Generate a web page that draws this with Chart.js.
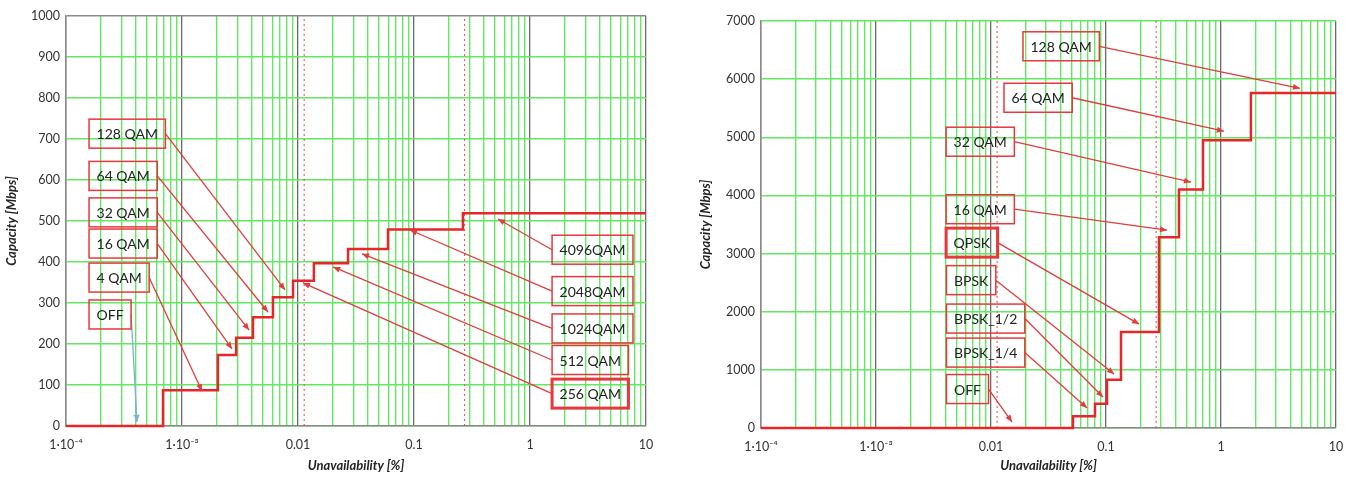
<!DOCTYPE html>
<html>
<head>
<meta charset="utf-8">
<script src="https://cdn.jsdelivr.net/npm/chart.js@4.4.1/dist/chart.umd.min.js"></script>
<style>
  html, body { margin: 0; padding: 0; background: #fff; }
  #wrap { position: relative; width: 1358px; height: 477px; }
  canvas { position: absolute; top: 0; }
</style>
</head>
<body>
<div id="wrap">
  <canvas id="leftChart" width="679" height="477" style="left:0"></canvas>
  <canvas id="rightChart" width="679" height="477" style="left:679px"></canvas>
</div>
<script>
// x axis (Unavailability [%]), decade ticks
const xTickValues = [1e-4, 1e-3, 0.01, 0.1, 1, 10];
const xTickLabels = ['1·10⁻⁴', '1·10⁻³', '0.01', '0.1', '1', '10'];
const markerLines = [0.0113, 0.273];

// left chart: step start points and capacity levels (Mbps)
const leftBreaks = [1e-4, 6.86e-4, 2.04e-3, 2.93e-3, 4.09e-3, 6.08e-3, 9.06e-3, 0.0137, 0.027, 0.0597, 0.264, 10];
const leftLevels = [0, 87, 173, 215, 265, 314, 354, 397, 432, 479, 519, 519];

// right chart
const rightBreaks = [1e-4, 0.0516, 0.0802, 0.102, 0.135, 0.289, 0.431, 0.697, 1.82, 10];
const rightLevels = [0, 200, 415, 830, 1650, 3280, 4100, 4950, 5760, 5760];

// callout boxes: box at (bx, by), arrow to (tx, ty), all in axis units
const leftTags = [
  { text: '128 QAM', bx: 1.58e-4, by: 713, tx: 7.73e-3, ty: 332 },
  { text: '64 QAM',  bx: 1.58e-4, by: 610, tx: 5.51e-3, ty: 278 },
  { text: '32 QAM',  bx: 1.58e-4, by: 521, tx: 3.79e-3, ty: 234 },
  { text: '16 QAM',  bx: 1.58e-4, by: 445, tx: 2.70e-3, ty: 188 },
  { text: '4 QAM',   bx: 1.58e-4, by: 362, tx: 1.49e-3, ty: 85 },
  { text: 'OFF',     bx: 1.58e-4, by: 272, tx: 4.09e-4, ty: 10, arrow: '#7fb0e0' },
  { text: '4096QAM', bx: 1.55, by: 430, tx: 0.530, ty: 505 },
  { text: '2048QAM', bx: 1.55, by: 329, tx: 0.0925, ty: 478 },
  { text: '1024QAM', bx: 1.55, by: 238, tx: 0.0357, ty: 420 },
  { text: '512 QAM', bx: 1.55, by: 161, tx: 0.0201, ty: 388 },
  { text: '256 QAM', bx: 1.55, by: 79,  tx: 0.01104, ty: 349, bold: true }
];
const rightTags = [
  { text: '128 QAM',  bx: 0.01897, by: 6565, tx: 4.86, ty: 5843 },
  { text: '64 QAM',   bx: 0.01297, by: 5680, tx: 1.06, ty: 5104 },
  { text: '32 QAM',   bx: 4.07e-3, by: 4924, tx: 0.548, ty: 4228 },
  { text: '16 QAM',   bx: 4.07e-3, by: 3763, tx: 0.339, ty: 3403 },
  { text: 'QPSK',     bx: 4.07e-3, by: 3188, tx: 0.194, ty: 1787, bold: true },
  { text: 'BPSK',     bx: 4.1e-3,  by: 2543, tx: 0.1175, ty: 928 },
  { text: 'BPSK_1/2', bx: 4.1e-3,  by: 1882, tx: 0.0942, ty: 533 },
  { text: 'BPSK_1/4', bx: 4.1e-3,  by: 1297, tx: 0.0684, ty: 344 },
  { text: 'OFF',      bx: 4.1e-3,  by: 670,  tx: 0.01525, ty: 103 }
];

// log grid: 1..9 in every decade
const gridValues = [];
for (let d = -4; d <= 0; d++) {
  for (let m = 1; m <= 9; m++) gridValues.push(Number((m * Math.pow(10, d)).toPrecision(6)));
}
gridValues.push(10);

function isDecade(v) {
  const l = Math.log10(v);
  return Math.abs(l - Math.round(l)) < 1e-6;
}

const FONT = 'Lato, "Open Sans", sans-serif';

const tagPlugin = {
  id: 'tags',
  afterDatasetsDraw(chart, args, opts) {
    const ctx = chart.ctx;
    const xs = chart.scales.x, ys = chart.scales.y;
    ctx.save();
    ctx.font = '14px ' + FONT;
    ctx.textBaseline = 'middle';
    opts.items.forEach(t => {
      const bx = xs.getPixelForValue(t.bx);
      const by = ys.getPixelForValue(t.by);
      const w = ctx.measureText(t.text).width + 15;
      const h = 29;
      const tx = xs.getPixelForValue(t.tx);
      const ty = ys.getPixelForValue(t.ty);
      const sx = tx > bx + w ? bx + w : bx;
      const color = t.arrow || '#e23c3c';

      // arrow
      ctx.strokeStyle = color;
      ctx.fillStyle = color;
      ctx.lineWidth = 1.3;
      ctx.beginPath();
      ctx.moveTo(sx, by);
      ctx.lineTo(tx, ty);
      ctx.stroke();
      const a = Math.atan2(ty - by, tx - sx);
      ctx.beginPath();
      ctx.moveTo(tx, ty);
      ctx.lineTo(tx - 7 * Math.cos(a) + 3 * Math.sin(a), ty - 7 * Math.sin(a) - 3 * Math.cos(a));
      ctx.lineTo(tx - 7 * Math.cos(a) - 3 * Math.sin(a), ty - 7 * Math.sin(a) + 3 * Math.cos(a));
      ctx.closePath();
      ctx.fill();

      // box
      ctx.strokeStyle = '#e8383c';
      ctx.lineWidth = t.bold ? 3 : 1.5;
      ctx.strokeRect(bx, by - h / 2, w, h);
      ctx.fillStyle = '#222';
      ctx.fillText(t.text, bx + 7.5, by + 1);
    });
    ctx.restore();
  }
};

function makeChart(id, breaks, levels, tags, yMax, yStep, topGray, yWidth, xHeight, padding) {
  const steps = breaks.map((b, i) => ({ x: b, y: levels[i] }));
  const markers = markerLines.map(v => ({
    data: [{ x: v, y: 0 }, { x: v, y: yMax }],
    borderColor: '#e84a4a',
    borderWidth: 1,
    borderDash: [2, 3],
    pointRadius: 0
  }));
  return new Chart(document.getElementById(id), {
    type: 'line',
    data: {
      datasets: [{
        data: steps,
        stepped: 'before',
        borderColor: '#e8262a',
        borderWidth: 2.5,
        pointRadius: 0,
        clip: 6
      }].concat(markers)
    },
    options: {
      responsive: false,
      animation: false,
      layout: { padding },
      plugins: {
        legend: { display: false },
        tooltip: { enabled: false },
        tags: { items: tags }
      },
      scales: {
        x: {
          type: 'logarithmic',
          min: 1e-4,
          max: 10,
          afterBuildTicks(s) { s.ticks = gridValues.map(v => ({ value: v })); },
          afterFit(s) { s.height = xHeight; },
          ticks: {
            autoSkip: false,
            maxRotation: 0,
            padding: 11,
            color: '#333',
            font: { family: FONT, size: 12.5 },
            callback(v) {
              const i = xTickValues.findIndex(d => Math.abs(d - v) / d < 1e-6);
              return i >= 0 ? xTickLabels[i] : '';
            }
          },
          grid: {
            drawTicks: false,
            color: c => isDecade(c.tick.value) ? '#6a6a6a' : '#62e862',
            lineWidth: c => isDecade(c.tick.value) ? 1.3 : 1.4
          },
          border: { color: '#8a8a8a', width: 1.5 },
          title: {
            display: true,
            text: 'Unavailability [%]',
            color: '#222',
            font: { family: FONT, size: 13, weight: 'bold', style: 'italic' },
            padding: { top: 2, bottom: 3 }
          }
        },
        y: {
          min: 0,
          max: yMax,
          afterFit(s) { s.width = yWidth; },
          ticks: {
            stepSize: yStep,
            padding: 6,
            color: '#333',
            font: { family: FONT, size: 12.5 },
            callback: v => String(v)
          },
          grid: {
            drawTicks: false,
            color: c => (topGray && c.tick.value === yMax) ? '#8a8a8a' : '#62e862',
            lineWidth: 1.4
          },
          border: { color: '#8a8a8a', width: 1.5 },
          title: {
            display: true,
            text: 'Capacity [Mbps]',
            color: '#222',
            font: { family: FONT, size: 13, weight: 'bold', style: 'italic' },
            padding: { top: 4, bottom: 4 }
          }
        }
      }
    },
    plugins: [tagPlugin]
  });
}

makeChart('leftChart', leftBreaks, leftLevels, leftTags, 1000, 100, true, 66, 51,
  { left: 0, right: 33, top: 16, bottom: 0 });
makeChart('rightChart', rightBreaks, rightLevels, rightTags, 7000, 1000, false, 67, 49,
  { left: 15, right: 22, top: 21, bottom: 0 });
</script>
</body>
</html>
